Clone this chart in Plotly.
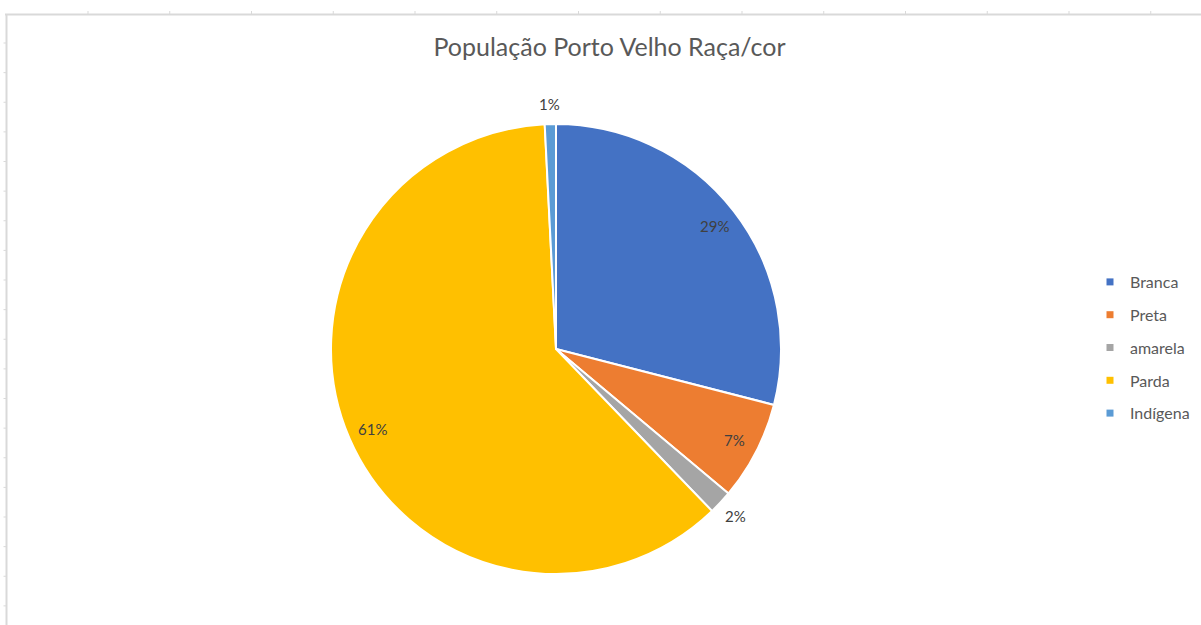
import math
import plotly.graph_objects as go

# ---- data ----
categories = ["Branca", "Preta", "amarela", "Parda", "Indígena"]
values = [29.0, 7.1, 1.7, 61.4, 0.8]
colors = ["#4472C4", "#ED7D31", "#A5A5A5", "#FFC000", "#5B9BD5"]
title_text = "População Porto Velho Raça/cor"

W, H = 1201, 625
CX, CY, R = 556, 349, 225  # pie centre / radius in pixels

fig = go.Figure()
fig.add_trace(go.Pie(
    labels=categories, values=values, sort=False, direction="clockwise",
    rotation=0, marker=dict(colors=colors, line=dict(color="white", width=2)),
    textinfo="none", showlegend=False,
    domain=dict(x=[(CX - R) / W, (CX + R) / W], y=[1 - (CY + R) / H, 1 - (CY - R) / H]),
))

# legend via dummy traces (for Excel-like spacing)
for cat, col in zip(categories, colors):
    fig.add_trace(go.Scatter(x=[None], y=[None], mode="markers", name=cat,
                             legendgroup=cat,
                             marker=dict(symbol="square", size=7, color=col)))

# data labels computed from the slice angles
total = sum(values)
cum = 0.0
annotations = []
for v in values:
    pct = v / total
    mid = (cum + pct / 2) * 2 * math.pi
    cum += pct
    r = 0.89 * R if pct >= 0.05 else 1.09 * R
    px = CX + r * math.sin(mid)
    py = CY - r * math.cos(mid)
    annotations.append(dict(x=px / W, y=1 - py / H, xref="paper", yref="paper",
                            text=f"{round(pct * 100)}%", showarrow=False,
                            font=dict(family="Lato", size=15, color="#404040"),
                            xanchor="center", yanchor="middle"))

# sheet-like border lines with ticks
shapes = [
    dict(type="line", xref="paper", yref="paper", x0=5 / W, x1=1, y0=1 - 14.5 / H, y1=1 - 14.5 / H,
         line=dict(color="#d9d9d9", width=2)),
    dict(type="line", xref="paper", yref="paper", x0=6.5 / W, x1=6.5 / W, y0=0, y1=1 - 14 / H,
         line=dict(color="#d9d9d9", width=2)),
]
for k in range(14):
    x = 88 + 81.75 * k
    if x < W:
        shapes.append(dict(type="line", xref="paper", yref="paper", x0=x / W, x1=x / W,
                           y0=1 - 11 / H, y1=1 - 15 / H, line=dict(color="#d9d9d9", width=1)))
for k in range(20):
    y = 43 + 29.625 * k
    if y < H:
        shapes.append(dict(type="line", xref="paper", yref="paper", x0=3.5 / W, x1=7 / W,
                           y0=1 - y / H, y1=1 - y / H, line=dict(color="#d9d9d9", width=1)))

fig.update_layout(
    width=W, height=H,
    margin=dict(l=0, r=0, t=0, b=0),
    paper_bgcolor="white", plot_bgcolor="white",
    title=dict(text=title_text, x=609.5 / W, xanchor="center", y=1 - 47 / H, yanchor="middle",
               font=dict(family="Lato", size=25, color="#595959")),
    xaxis=dict(visible=False), yaxis=dict(visible=False),
    legend=dict(x=1090 / W, y=1 - 265 / H, xanchor="left", yanchor="top",
                tracegroupgap=9, itemwidth=30,
                font=dict(family="Lato", size=16, color="#595959"),
                bgcolor="rgba(0,0,0,0)"),
    annotations=annotations,
    shapes=shapes,
)

fig.write_html("out.html", config={"displayModeBar": False},
               post_script="document.body.style.margin='0';")
